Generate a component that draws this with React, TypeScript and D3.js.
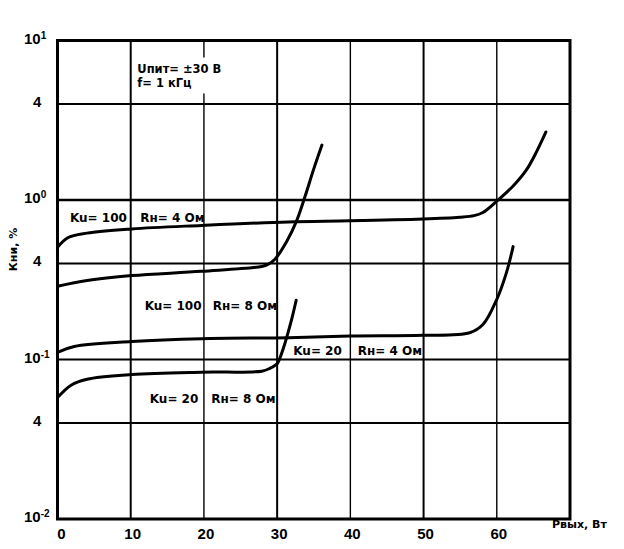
import * as d3 from 'd3'

type Point = [number, number]

// Кни (%) vs Рвых (Вт)
const xTickValues = [0, 10, 20, 30, 40, 50, 60]
const xGridValues = [10, 20, 30, 40, 50, 60]
const yTickValues = [10, 4, 1, 0.4, 0.1, 0.04, 0.01]
const yTickBase = ['10', '4', '10', '4', '10', '4', '10']
const yTickExp = ['1', '', '0', '', '-1', '', '-2']

const ku100r4: Point[] = [
  [0, 0.505], [1.41, 0.58], [4.03, 0.62], [10.14, 0.659], [19.67, 0.693], [31.55, 0.729],
  [40, 0.74], [49.86, 0.76], [54.93, 0.78], [56.9, 0.798], [58.1, 0.835], [59.96, 0.98],
  [62.23, 1.224], [64.07, 1.55], [65.44, 2.01], [66.71, 2.67],
]

const ku100r8: Point[] = [
  [0, 0.288], [4.03, 0.313], [10.14, 0.336], [19.67, 0.357], [27.9, 0.383], [28.8, 0.396],
  [29.73, 0.427], [31.32, 0.551], [32.7, 0.748], [33.84, 1.063], [34.97, 1.55], [36.12, 2.21],
]

const ku20r4: Point[] = [
  [0, 0.111], [2.29, 0.1207], [10.14, 0.1296], [19.67, 0.1351], [31.55, 0.137], [40, 0.1404],
  [49.86, 0.1418], [56.3, 0.1472], [58.11, 0.1657], [59.96, 0.236], [61.33, 0.352], [62.23, 0.51],
]

const ku20r8: Point[] = [
  [0, 0.0577], [1.86, 0.069], [4.03, 0.0752], [10.14, 0.0804], [19.67, 0.0833], [27.9, 0.0845],
  [29, 0.088], [30, 0.094], [30.41, 0.103], [30.96, 0.122], [31.51, 0.1486], [32.05, 0.1837],
  [32.6, 0.2352],
]

const curves = [ku100r4, ku100r8, ku20r4, ku20r8]

const curveLabels = [
  { ku: 'Ku= 100', rn: 'Rн= 4 Ом', kuX: 1.7, rnX: 11.3, y: 0.73 },
  { ku: 'Ku= 100', rn: 'Rн= 8 Ом', kuX: 11.9, rnX: 21.2, y: 0.204 },
  { ku: 'Ku= 20', rn: 'Rн= 4 Ом', kuX: 32.2, rnX: 41, y: 0.107 },
  { ku: 'Ku= 20', rn: 'Rн= 8 Ом', kuX: 12.6, rnX: 21, y: 0.0534 },
]

const conditionLines = [
  { text: 'Uпит= ±30 В', x: 10.9, y: 6.3 },
  { text: 'f= 1 кГц', x: 10.9, y: 5.1 },
]

const labelFont = '"DejaVu Sans", sans-serif'
const tickFont = '"Liberation Sans", Arial, sans-serif'

export default function App() {
  const width = 624
  const height = 549
  const plot = { left: 57.5, right: 570, top: 40.5, bottom: 519 }

  const x = d3.scaleLinear().domain([0, 70]).range([plot.left, plot.right])
  const y = d3.scaleLog().domain([0.01, 10]).range([plot.bottom, plot.top])

  const line = d3
    .line<Point>()
    .x((point) => x(point[0]))
    .y((point) => y(point[1]))
    .curve(d3.curveCatmullRom.alpha(0.5))

  return (
    <svg
      width={width}
      height={height}
      viewBox={`0 0 ${width} ${height}`}
      style={{ position: 'absolute', left: 0, top: 0, background: '#fff' }}
    >
      <rect x={0} y={0} width={width} height={height} fill="#fff" />

      {yTickValues.map((tick) => (
        <line
          key={`h-${tick}`}
          x1={plot.left}
          x2={plot.right}
          y1={y(tick)}
          y2={y(tick)}
          stroke="#000"
          strokeWidth={tick === 1 ? 2.4 : 2}
        />
      ))}

      {xGridValues.map((tick) => (
        <line
          key={`v-${tick}`}
          x1={x(tick)}
          x2={x(tick)}
          y1={plot.top}
          y2={plot.bottom}
          stroke="#000"
          strokeWidth={tick % 20 === 0 ? 1.4 : 2}
        />
      ))}

      {/* white panel behind the test conditions, it cuts the 20 W gridline */}
      <rect
        x={x(conditionLines[0].x) - 3}
        y={y(conditionLines[0].y) - 15}
        width={88}
        height={36}
        fill="#fff"
      />

      <rect
        x={plot.left}
        y={plot.top}
        width={plot.right - plot.left}
        height={plot.bottom - plot.top}
        fill="none"
        stroke="#000"
        strokeWidth={3}
      />

      {curves.map((points, index) => (
        <path
          key={index}
          d={line(points) ?? ''}
          fill="none"
          stroke="#000"
          strokeWidth={3}
          strokeLinecap="round"
          strokeLinejoin="round"
        />
      ))}

      {conditionLines.map((entry) => (
        <text
          key={entry.text}
          x={x(entry.x)}
          y={y(entry.y)}
          fontFamily={labelFont}
          fontWeight="bold"
          fontSize="11.5"
          fill="#000"
        >
          {entry.text}
        </text>
      ))}

      {curveLabels.map((entry) => (
        <g key={`${entry.ku}-${entry.rn}`} fontFamily={labelFont} fontWeight="bold" fontSize="12" fill="#000">
          <text x={x(entry.kuX)} y={y(entry.y)}>
            {entry.ku}
          </text>
          <text x={x(entry.rnX)} y={y(entry.y)}>
            {entry.rn}
          </text>
        </g>
      ))}

      {yTickValues.map((tick, index) => (
        <text
          key={`yl-${tick}`}
          x={yTickExp[index] ? 24 : 33}
          y={y(tick) + 3}
          fontFamily={tickFont}
          fontWeight="bold"
          fontSize="15"
          fill="#000"
        >
          {yTickBase[index]}
          {yTickExp[index] ? (
            <tspan fontSize="10" dy={-5}>
              {yTickExp[index]}
            </tspan>
          ) : null}
        </text>
      ))}

      {xTickValues.map((tick) => (
        <text
          key={`xl-${tick}`}
          x={x(tick) + (tick === 0 ? 4 : 2)}
          y={plot.bottom + 20}
          textAnchor="middle"
          fontFamily={tickFont}
          fontWeight="bold"
          fontSize="15"
          fill="#000"
        >
          {tick}
        </text>
      ))}

      <text
        transform={`translate(17,${y(0.4) - 14}) rotate(-90)`}
        textAnchor="middle"
        fontFamily={labelFont}
        fontWeight="bold"
        fontSize="11"
        fill="#000"
      >
        Кни, %
      </text>

      <text
        x={552}
        y={plot.bottom + 9}
        fontFamily={labelFont}
        fontWeight="bold"
        fontSize="11"
        fill="#000"
      >
        Рвых, Вт
      </text>
    </svg>
  )
}
